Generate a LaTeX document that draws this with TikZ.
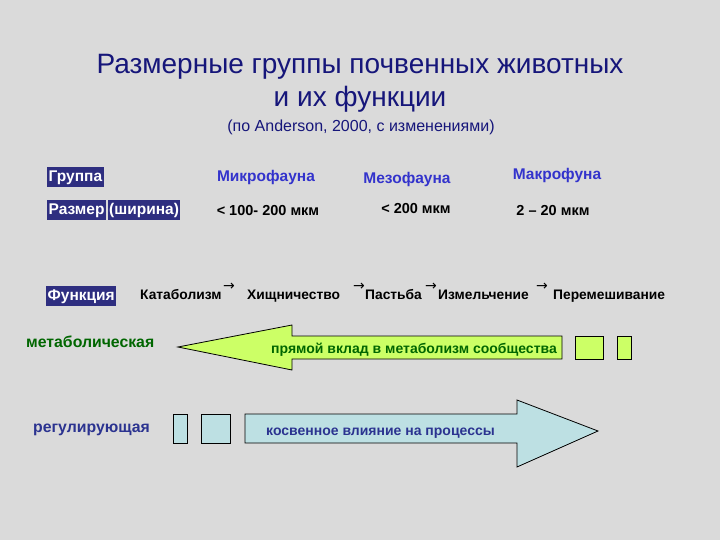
\documentclass[tikz,border=0pt]{standalone}
\usepackage{fontspec}
\setmainfont{Liberation Sans}
\newfontfamily\arrowfont{DejaVu Sans}
\definecolor{bg}{HTML}{DADADA}
\definecolor{titleblue}{HTML}{16167A}
\definecolor{labbox}{HTML}{2E2E80}
\definecolor{faunablue}{HTML}{3333CC}
\definecolor{darkgreen}{HTML}{006600}
\definecolor{navytext}{HTML}{2B3390}
\definecolor{limefill}{HTML}{CCFF66}
\definecolor{cyanfill}{HTML}{BDE0E3}
\tikzset{
  titletext/.style={text=titleblue, font=\fontsize{28}{30}\selectfont, inner sep=0pt, anchor=base},
  subtext/.style={text=titleblue, font=\fontsize{16}{18}\selectfont, inner sep=0pt, anchor=base},
  labtag/.style={fill=labbox, text=white, font=\fontsize{15.5}{17}\bfseries\selectfont, inner xsep=1.5pt, inner ysep=2.5pt, text height=12.5pt, text depth=3pt, anchor=west},
  faunatext/.style={text=faunablue, font=\fontsize{15.5}{17}\bfseries\selectfont, inner sep=0pt, anchor=base},
  sizetext/.style={text=black, font=\fontsize{14.5}{16}\bfseries\selectfont, inner sep=0pt, anchor=base},
  functext/.style={text=black, font=\fontsize{13.8}{16}\bfseries\selectfont, inner sep=0pt, anchor=base west},
  smallarrow/.style={text=black, font=\arrowfont\fontsize{14}{15}\selectfont, inner sep=0pt},
  rowlabel/.style={font=\fontsize{15.8}{18}\bfseries\selectfont, inner sep=0pt, anchor=base west},
  arrowtext/.style={font=\fontsize{14}{16}\bfseries\selectfont, inner sep=0pt},
  shapeline/.style={draw=black, line width=0.8pt},
}
\begin{document}
\begin{tikzpicture}[x=1pt,y=-1pt]
\fill[bg] (0,0) rectangle (720,540);
\useasboundingbox (0,0) rectangle (720,540);

% title
\node[titletext] (t1) at (360,74) {Размерные группы почвенных животных};
\node[titletext] (t2) at (360,107) {и их функции};
\node[subtext] (t3) at (361,132) {(по Anderson, 2000, с изменениями)};

% left tags
\node[labtag] (grp) at (47,177) {Группа};
\node[labtag] (razm) at (47,210) {Размер};
\node[labtag] (shir) at (107.5,210) {(ширина)};
\node[labtag] (func) at (46,296) {Функция};

% fauna headers
\node[faunatext] (micro) at (266,182) {Микрофауна};
\node[faunatext] (meso) at (407,184) {Мезофауна};
\node[faunatext] (macro) at (557,180) {Макрофуна};

% sizes
\node[sizetext] (s1) at (268,215) {< 100- 200 мкм};
\node[sizetext] (s2) at (416,213.5) {< 200 мкм};
\node[sizetext] (s3) at (553,215) {2 – 20 мкм};

% functions
\node[functext] (f1) at (140,299) {Катаболизм};
\node[smallarrow] (a1) at (229,287) {→};
\node[functext] (f2) at (247,299) {Хищничество};
\node[smallarrow] (a2) at (359,287) {→};
\node[functext] (f3) at (365,299) {Пастьба};
\node[smallarrow] (a3) at (431,287) {→};
\node[functext] (f4) at (438,299) {Измельчение};
\node[smallarrow] (a4) at (542,287) {→};
\node[functext] (f5) at (553,299) {Перемешивание};

% left row labels
\node[rowlabel, text=darkgreen] (metab) at (26,347) {метаболическая};
\node[rowlabel, text=navytext] (reg) at (33,432) {регулирующая};

% green arrow (left)
\filldraw[fill=limefill, shapeline] (178,347) -- (292,325) -- (292,336) -- (562,336) -- (562,359) -- (292,359) -- (292,370) -- cycle;
\filldraw[fill=limefill, shapeline] (575,336) rectangle (603,359);
\filldraw[fill=limefill, shapeline] (617,336) rectangle (631,359);
\node[arrowtext, text=darkgreen, anchor=base east] (gtext) at (557,353) {прямой вклад в метаболизм сообщества};

% blue arrow (right)
\filldraw[fill=cyanfill, shapeline] (173,414) rectangle (187,443);
\filldraw[fill=cyanfill, shapeline] (201,414) rectangle (230,443);
\filldraw[fill=cyanfill, shapeline] (245,414) -- (517,414) -- (517,400) -- (598,431) -- (517,467) -- (517,443) -- (245,443) -- cycle;
\node[arrowtext, text=navytext, anchor=base west] (btext) at (266,435) {косвенное влияние на процессы};
\end{tikzpicture}
\end{document}
